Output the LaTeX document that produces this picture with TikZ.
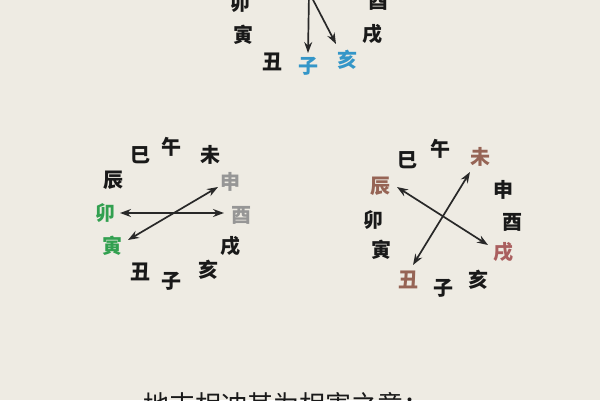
\documentclass[tikz,border=0pt]{standalone}
\usepackage{fontspec}
\newfontfamily\cjk{Noto Sans CJK SC}
\usetikzlibrary{arrows.meta}
\definecolor{paper}{RGB}{238,235,227}
\definecolor{ink}{RGB}{25,25,25}
\definecolor{arrowc}{RGB}{40,40,40}
\definecolor{blueb}{RGB}{52,150,200}
\definecolor{greenb}{RGB}{50,160,80}
\definecolor{grayb}{RGB}{150,150,150}
\definecolor{brownb}{RGB}{150,100,85}
\definecolor{redb}{RGB}{170,95,95}
\tikzset{
  zhi/.style={font=\cjk\bfseries\fontsize{20}{20}\selectfont, text=ink, inner sep=0pt, minimum size=20pt},
  link/.style={draw=arrowc, line width=1.7pt},
  one/.style={link, -{Stealth[length=11pt,width=8pt]}},
  two/.style={link, {Stealth[length=11pt,width=8pt]}-{Stealth[length=11pt,width=8pt]}},
  caption/.style={font=\cjk\fontsize{26}{26}\selectfont, text=ink, inner sep=0pt}
}
\begin{document}
\begin{tikzpicture}[x=1pt,y=-1pt]
\useasboundingbox (0,0) rectangle (600,400);
\fill[paper] (0,0) rectangle (600,400);
\clip (0,0) rectangle (600,400);

% top cluster
\node[zhi] (t-mao) at (240,3) {卯};
\node[zhi] (t-yin) at (243,35) {寅};
\node[zhi] (t-chou) at (272,62) {丑};
\node[zhi, text=blueb] (t-zi) at (308,66) {子};
\node[zhi, text=blueb] (t-hai) at (347,60) {亥};
\node[zhi] (t-xu) at (372,34) {戌};
\node[zhi] (t-you) at (378,1) {酉};
\coordinate (t-top1) at (309,-6);
\coordinate (t-top2) at (310,-6);
\draw[one] (t-top1) -- ([shift={(0,-13)}]t-zi.center);
\draw[one] (t-top2) -- ([shift={(-11,-16)}]t-hai.center);

% left cluster
\node[zhi] (l-si) at (140,155) {巳};
\node[zhi] (l-wu) at (171,147) {午};
\node[zhi] (l-wei) at (210,155) {未};
\node[zhi] (l-chen) at (113,180) {辰};
\node[zhi, text=grayb] (l-shen) at (230,182) {申};
\node[zhi, text=greenb] (l-mao) at (105,213) {卯};
\node[zhi, text=grayb] (l-you) at (241,215) {酉};
\node[zhi, text=greenb] (l-yin) at (112,246) {寅};
\node[zhi] (l-xu) at (230,246) {戌};
\node[zhi] (l-chou) at (140,272) {丑};
\node[zhi] (l-zi) at (171,281) {子};
\node[zhi] (l-hai) at (208,270) {亥};
\draw[two] ([shift={(15,0)}]l-mao.center) -- ([shift={(-17,-2)}]l-you.center);
\draw[two] ([shift={(16,-6)}]l-yin.center) -- ([shift={(-12,5)}]l-shen.center);

% right cluster
\node[zhi] (r-si) at (407,160) {巳};
\node[zhi] (r-wu) at (440,149) {午};
\node[zhi, text=brownb] (r-wei) at (480,157) {未};
\node[zhi, text=brownb] (r-chen) at (380,186) {辰};
\node[zhi] (r-shen) at (503,190) {申};
\node[zhi] (r-mao) at (373,220) {卯};
\node[zhi] (r-you) at (512,222) {酉};
\node[zhi] (r-yin) at (381,250) {寅};
\node[zhi, text=redb] (r-xu) at (503,252) {戌};
\node[zhi, text=brownb] (r-chou) at (408,280) {丑};
\node[zhi] (r-zi) at (443,288) {子};
\node[zhi] (r-hai) at (478,280) {亥};
\draw[two] ([shift={(17,1)}]r-chen.center) -- ([shift={(-15,-7)}]r-xu.center);
\draw[two] ([shift={(-10,15)}]r-wei.center) -- ([shift={(5,-15)}]r-chou.center);

% caption (cut by the lower edge)
\node[caption] (cap) at (286,404) {地支相冲其为相害之意：};
\end{tikzpicture}
\end{document}
